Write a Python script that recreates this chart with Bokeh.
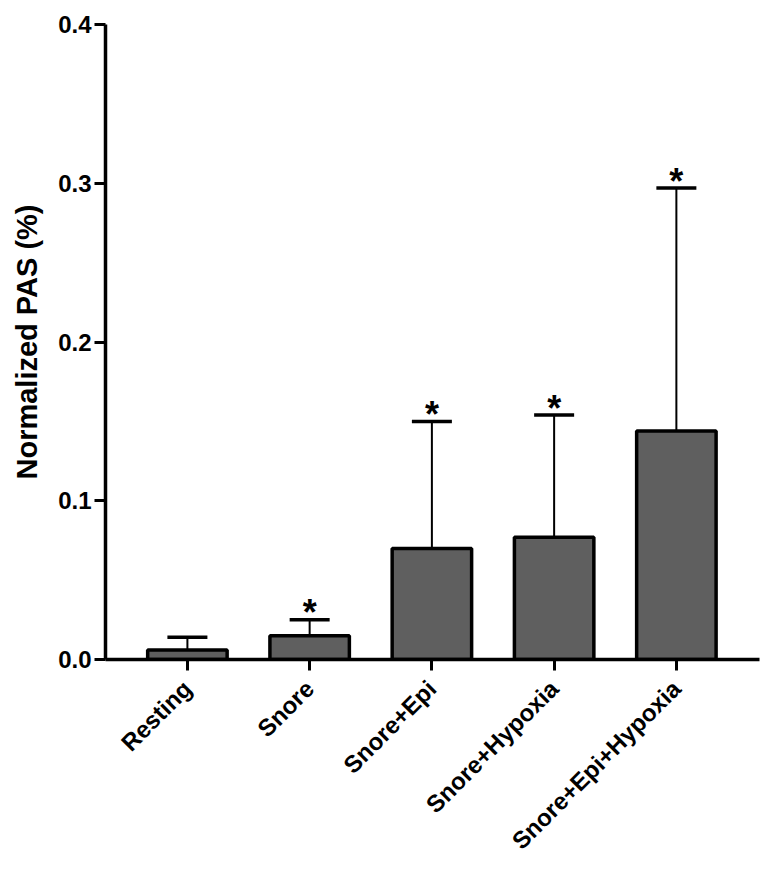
from math import pi
from bokeh.plotting import figure
from bokeh.models import ColumnDataSource, Range1d, FixedTicker, Whisker, TeeHead
from bokeh.core.properties import value
from bokeh.embed import file_html
from bokeh.resources import INLINE

# ---- data ----
categories = ["Resting", "Snore", "Snore+Epi", "Snore+Hypoxia", "Snore+Epi+Hypoxia"]
means = [0.006, 0.015, 0.070, 0.077, 0.144]
upper_err = [0.014, 0.025, 0.150, 0.154, 0.297]
significant = [False, True, True, True, True]
y_ticks = [0.0, 0.1, 0.2, 0.3, 0.4]
y_tick_labels = ["0.0", "0.1", "0.2", "0.3", "0.4"]
y_title = "Normalized PAS (%)"

FONT = "Liberation Sans"
xs = list(range(len(categories)))

src = ColumnDataSource(dict(x=xs, mean=means, upper=upper_err))
star_x = [x for x, s in zip(xs, significant) if s]
star_y = [u for u, s in zip(upper_err, significant) if s]
star_src = ColumnDataSource(dict(x=star_x, y=star_y, t=["*"] * len(star_x)))

p = figure(frame_width=654, frame_height=635, output_backend="svg",
           toolbar_location=None, x_range=Range1d(-0.67, 4.68),
           y_range=Range1d(0, 0.4))
p.min_border_left = 105
p.min_border_top = 24
p.min_border_right = 3
p.min_border_bottom = 195
p.outline_line_color = None
p.xgrid.visible = False
p.ygrid.visible = False
p.background_fill_color = "white"

p.vbar(x="x", top="mean", bottom=0, width=0.65, source=src,
       fill_color="#5f5f5f", line_color="black", line_width=3.5)

w = Whisker(base="x", upper="upper", lower="mean", source=src,
            line_color="black", line_width=2,
            upper_head=TeeHead(size=40, line_color="black", line_width=3.5),
            lower_head=None)
p.add_layout(w)

p.text(x="x", y="y", text="t", source=star_src, text_align="center",
       text_baseline="alphabetic", y_offset=-7, text_font=value(FONT),
       text_font_style="bold", text_font_size="36px", text_color="black")

# y axis
ya = p.yaxis[0]
ya.ticker = FixedTicker(ticks=y_ticks)
ya.major_label_overrides = {t: l for t, l in zip(y_ticks, y_tick_labels)}
ya.minor_tick_line_color = None
ya.axis_line_width = 3.5
ya.axis_line_color = "black"
ya.major_tick_line_width = 3
ya.major_tick_line_color = "black"
ya.major_tick_out = 11
ya.major_tick_in = 0
ya.major_label_standoff = 3
ya.major_label_text_font = FONT
ya.major_label_text_font_style = "bold"
ya.major_label_text_font_size = "24px"
ya.major_label_text_color = "black"
ya.axis_label = y_title
ya.axis_label_text_font = FONT
ya.axis_label_text_font_style = "bold"
ya.axis_label_text_font_size = "29px"
ya.axis_label_text_color = "black"
ya.axis_label_standoff = 12

# x axis
xa = p.xaxis[0]
xa.ticker = FixedTicker(ticks=xs)
xa.major_label_overrides = {x: c for x, c in zip(xs, categories)}
xa.minor_tick_line_color = None
xa.axis_line_width = 3.5
xa.axis_line_color = "black"
xa.major_tick_line_width = 3
xa.major_tick_line_color = "black"
xa.major_tick_out = 11
xa.major_tick_in = 0
xa.major_label_orientation = pi / 4
xa.major_label_standoff = 14
xa.major_label_text_font = FONT
xa.major_label_text_font_style = "bold"
xa.major_label_text_font_size = "24px"
xa.major_label_text_color = "black"

open("out.html", "w").write(file_html(p, INLINE))
